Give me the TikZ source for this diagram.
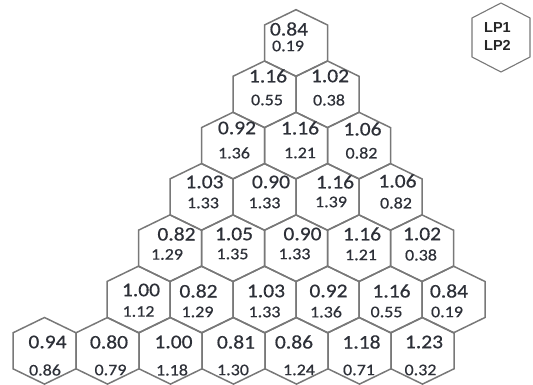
\documentclass[tikz,border=0pt]{standalone}
\usepackage{fontspec}
\setmainfont{Carlito}
\newfontfamily\numfont[FakeBold=0.5]{Carlito}
\newfontfamily\lpfont{Liberation Sans}
\usepackage{graphicx}
\definecolor{hexgray}{RGB}{120,120,120}
\definecolor{numcol}{RGB}{45,48,56}
\tikzset{
  hexline/.style={draw=hexgray, line width=1.5pt, line join=miter},
  topnum/.style={inner sep=0pt, text=numcol, font=\numfont\fontsize{21.5}{22}\selectfont},
  botnum/.style={inner sep=0pt, text=numcol, font=\numfont\fontsize{18}{19}\selectfont},
  lptext/.style={inner sep=0pt, text=black!85, font=\lpfont\bfseries\fontsize{14.5}{15}\selectfont},
}
\newcommand\hexpath[2]{\draw[hexline] (#1,#2) ++(0,-33.3) -- ++(31.5,15.3) -- ++(0,36) -- ++(-31.5,15.3) -- ++(-31.5,-15.3) -- ++(0,-36) -- cycle;}
\newcommand\hexcell[9]{%
  \hexpath{#2}{#3}
  \node[topnum] (#1a) at (#5,#6) {\scalebox{1}[0.9]{#4}};
  \node[botnum] (#1b) at (#8,#9) {\scalebox{1}[0.9]{#7}};
}
\begin{document}
\begin{tikzpicture}[x=1pt,y=-1pt]
\useasboundingbox (0,0) rectangle (533,385);
% row 1
\hexcell{r1c1}{296}{43}{0.84}{289}{29}{0.19}{288}{46}
% row 2
\hexcell{r2c1}{264.5}{94.3}{1.16}{268}{76}{0.55}{267}{100}
\hexcell{r2c2}{327.5}{94.3}{1.02}{330}{76}{0.38}{329}{100}
% row 3
\hexcell{r3c1}{233}{145.6}{0.92}{237}{128}{1.36}{234}{153}
\hexcell{r3c2}{296}{145.6}{1.16}{300}{128}{1.21}{300}{153}
\hexcell{r3c3}{359}{145.6}{1.06}{362.5}{129}{0.82}{361.5}{153}
% row 4
\hexcell{r4c1}{201.5}{196.9}{1.03}{204.5}{182}{1.33}{203}{203}
\hexcell{r4c2}{264.5}{196.9}{0.90}{271}{182}{1.33}{264.5}{203}
\hexcell{r4c3}{327.5}{196.9}{1.16}{335}{182}{1.39}{331}{202}
\hexcell{r4c4}{390.5}{196.9}{1.06}{397.5}{181}{0.82}{396}{203}
% row 5
\hexcell{r5c1}{170}{248.2}{0.82}{176.5}{234}{1.29}{167}{254.5}
\hexcell{r5c2}{233}{248.2}{1.05}{234}{234}{1.35}{232.5}{254}
\hexcell{r5c3}{296}{248.2}{0.90}{302.5}{234}{1.33}{294.5}{254}
\hexcell{r5c4}{359}{248.2}{1.16}{362}{234}{1.21}{361}{255}
\hexcell{r5c5}{422}{248.2}{1.02}{422}{234}{0.38}{421}{255}
% row 6
\hexcell{r6c1}{138.5}{299.5}{1.00}{141}{290}{1.12}{138.5}{311.5}
\hexcell{r6c2}{201.5}{299.5}{0.82}{198.5}{291}{1.29}{197.5}{312}
\hexcell{r6c3}{264.5}{299.5}{1.03}{266}{291}{1.33}{264.5}{312}
\hexcell{r6c4}{327.5}{299.5}{0.92}{328.5}{291}{1.36}{326}{312}
\hexcell{r6c5}{390.5}{299.5}{1.16}{391.5}{291}{0.55}{386.5}{312}
\hexcell{r6c6}{453.5}{299.5}{0.84}{449}{291}{0.19}{447}{312}
% row 7
\hexcell{r7c1}{44.5}{350.8}{0.94}{47.5}{342}{0.86}{45}{370}
\hexcell{r7c2}{107.5}{350.8}{0.80}{109}{342}{0.79}{110.5}{370}
\hexcell{r7c3}{170.5}{350.8}{1.00}{173.5}{342}{1.18}{172}{370}
\hexcell{r7c4}{233.5}{350.8}{0.81}{236}{342}{1.30}{233}{370}
\hexcell{r7c5}{296.5}{350.8}{0.86}{294}{342}{1.24}{299}{370}
\hexcell{r7c6}{359.5}{350.8}{1.18}{361.5}{342}{0.71}{359}{370}
\hexcell{r7c7}{422.5}{350.8}{1.23}{424}{342}{0.32}{420.5}{370}
% legend
\draw[hexline, line width=1.1pt] (501,3) -- (530,18) -- (530,57) -- (501,72) -- (472,57) -- (472,18) -- cycle;
\node[lptext] (lp1) at (497.5,27.5) {LP1};
\node[lptext] (lp2) at (497.5,45) {LP2};
\end{tikzpicture}
\end{document}
